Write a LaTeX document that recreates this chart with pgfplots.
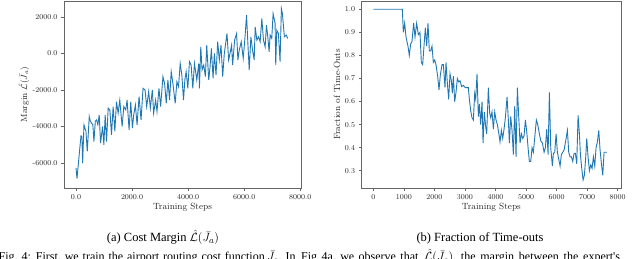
\documentclass[border=0pt]{standalone}
\usepackage{pgfplots}
\pgfplotsset{compat=1.18}
\usepackage{fontspec}
\newfontfamily\capfont{Liberation Serif}
\definecolor{mplblue}{HTML}{1F77B4}

\pgfplotstableread{
x y
0 -6270
35 -6850
142 -5090
178 -4510
210 -4550
237 -6000
284 -3910
320 -4100
355 -4270
402 -5360
473 -3450
510 -3700
556 -3820
600 -3900
639 -4820
690 -3700
734 -3640
780 -3900
828 -3360
876 -4910
947 -4000
994 -5000
1041 -3360
1089 -4820
1148 -3000
1207 -3090
1266 -4450
1325 -2910
1385 -4270
1444 -2640
1503 -3270
1562 -2550
1645 -4000
1704 -2910
1775 -3090
1822 -2550
1893 -4180
1953 -2640
2012 -4090
2059 -3360
2118 -2820
2178 -3910
2249 -2360
2320 -3640
2391 -1910
2462 -2000
2521 -2910
2592 -2090
2651 -3000
2722 -2000
2769 -3270
2840 -2550
2888 -3180
2959 -1910
3018 -2910
3101 -1270
3160 -1640
3219 -2730
3278 -1450
3337 -2550
3396 -1000
3456 -1640
3538 -2730
3598 -1550
3657 -1820
3716 -550
3775 -1180
3834 -2550
3882 -1450
3929 -1000
3988 -1910
4047 -450
4107 -640
4166 -1910
4225 -550
4308 -1450
4379 -550
4402 -1910
4450 360
4497 -910
4556 -640
4615 -1270
4663 450
4734 -1450
4781 -730
4828 270
4888 -1360
4935 0
4994 -1180
5053 640
5112 -360
5172 450
5231 -1270
5290 0
5385 1090
5444 -360
5491 0
5550 450
5586 -640
5657 730
5728 1090
5775 -360
5822 180
5893 640
5964 -270
6024 820
6083 2090
6130 550
6178 -910
6237 910
6296 180
6355 -360
6391 1450
6450 730
6509 910
6568 640
6627 1910
6686 730
6746 360
6793 1550
6840 910
6888 90
6923 1000
6982 820
7030 2180
7077 1820
7101 1640
7124 -640
7160 1270
7219 1090
7278 -450
7325 2450
7361 2180
7432 910
7503 1000
7550 820
}\costdata

\pgfplotstableread{
x y
0 1.0
950 1.0
983 0.90
1026 0.94
1070 0.88
1135 0.84
1179 0.80
1223 0.85
1266 0.86
1321 0.94
1365 0.88
1419 0.94
1474 0.89
1528 0.90
1572 0.77
1616 0.76
1659 0.84
1703 0.92
1747 0.84
1790 0.94
1834 0.82
1878 0.82
1921 0.84
1965 0.77
2009 0.78
2052 0.76
2107 0.71
2150 0.65
2194 0.715
2249 0.76
2293 0.76
2347 0.66
2380 0.77
2424 0.68
2467 0.61
2511 0.72
2555 0.69
2587 0.635
2620 0.71
2664 0.60
2707 0.64
2751 0.70
2795 0.685
2838 0.69
2893 0.665
2948 0.67
3013 0.66
3111 0.66
3144 0.61
3188 0.56
3231 0.53
3275 0.52
3319 0.635
3352 0.61
3395 0.72
3439 0.535
3472 0.59
3515 0.50
3559 0.60
3592 0.42
3635 0.555
3679 0.49
3712 0.46
3766 0.66
3810 0.55
3843 0.53
3886 0.555
3930 0.48
3974 0.555
4017 0.52
4061 0.50
4116 0.455
4148 0.425
4192 0.475
4236 0.44
4279 0.48
4323 0.53
4378 0.62
4421 0.52
4454 0.42
4498 0.535
4541 0.475
4585 0.37
4629 0.58
4672 0.36
4716 0.66
4760 0.535
4803 0.42
4847 0.46
4891 0.44
4934 0.45
4978 0.52
5022 0.47
5066 0.40
5109 0.34
5153 0.34
5197 0.40
5240 0.38
5295 0.46
5338 0.52
5382 0.50
5437 0.46
5480 0.43
5535 0.42
5590 0.38
5633 0.40
5677 0.48
5721 0.37
5764 0.64
5808 0.40
5862 0.32
5895 0.375
5939 0.38
5983 0.46
6026 0.38
6070 0.35
6114 0.32
6157 0.37
6201 0.38
6245 0.39
6299 0.43
6354 0.475
6397 0.38
6441 0.36
6485 0.36
6528 0.34
6572 0.375
6616 0.375
6659 0.33
6703 0.54
6747 0.46
6779 0.37
6823 0.31
6867 0.26
6910 0.28
6954 0.36
6987 0.44
7030 0.36
7074 0.30
7118 0.325
7161 0.31
7205 0.36
7249 0.32
7292 0.40
7336 0.425
7380 0.475
7423 0.39
7467 0.33
7511 0.28
7554 0.38
7598 0.38
7642 0.38
}\timeoutdata

\pgfplotsset{myax/.style={
  scale only axis, height=187pt,
  axis line style={black!60, line width=0.6pt},
  tick style={black!60, line width=0.6pt},
  tick align=outside, major tick length=3pt,
  xtick pos=bottom, ytick pos=left,
  scaled ticks=false,
  ticklabel style={font=\fontsize{7.5}{8}\selectfont, text=black!85},
  label style={font=\fontsize{9}{10}\selectfont, text=black!85},
  xlabel style={at={(axis description cs:0.5,-0.102)}, anchor=center},
}}

\begin{document}
\begin{tikzpicture}
\useasboundingbox (0,0) rectangle (640pt,259pt);
\clip (0,0) rectangle (640pt,259pt);

\begin{axis}[myax, at={(64pt,71pt)}, anchor=south west,
  width=237pt,
  xmin=-428, xmax=8025, ymin=-7366, ymax=2870,
  xtick={0,2000,4000,6000,8000},
  xticklabels={0.0,2000.0,4000.0,6000.0,8000.0},
  ytick={-6000,-4000,-2000,0,2000},
  yticklabels={-6000.0,-4000.0,-2000.0,0.0,2000.0},
  xlabel={Training Steps},
  ylabel={Margin $\hat{\mathcal{L}}(\bar{J}_a)$},
  ylabel style={at={(axis description cs:-0.169,0.5)}, anchor=center},
]
\addplot[mplblue, line width=0.9pt, no markers] table[x=x,y=y] {\costdata};
\end{axis}

\begin{axis}[myax, at={(361.7pt,71pt)}, anchor=south west,
  width=259.3pt,
  xmin=-380, xmax=8108, ymin=0.225, ymax=1.036,
  xtick={0,1000,2000,3000,4000,5000,6000,7000,8000},
  xticklabels={0,1000,2000,3000,4000,5000,6000,7000,8000},
  ytick={0.3,0.4,0.5,0.6,0.7,0.8,0.9,1.0},
  yticklabels={0.3,0.4,0.5,0.6,0.7,0.8,0.9,1.0},
  xlabel={Training Steps},
  ylabel={Fraction of Time-Outs},
  ylabel style={at={(axis description cs:-0.095,0.5)}, anchor=center},
]
\addplot[mplblue, line width=0.9pt, no markers] table[x=x,y=y] {\timeoutdata};
\end{axis}

\node[font=\capfont\fontsize{12.5}{14}\selectfont, anchor=base] at (163pt,17.5pt) {(a) Cost Margin $\hat{\mathcal{L}}(\bar{J_a})$};
\node[font=\capfont\fontsize{12.5}{14}\selectfont, anchor=base] at (480pt,17.5pt) {(b) Fraction of Time-outs};
\node[font=\capfont\fontsize{12}{14}\selectfont, anchor=base east, inner sep=0pt] at (265pt,-1.5pt) {\spaceskip=3.9pt\relax Fig.~4: First, we train the airport routing cost function};
\node[font=\capfont\fontsize{12}{14}\selectfont, anchor=base west, inner sep=0pt] at (267pt,-1.5pt) {$\bar{J}_a$. In};
\node[font=\capfont\fontsize{12}{14}\selectfont, anchor=base west, inner sep=0pt] at (301pt,-1.5pt) {\spaceskip=4.4pt\relax Fig 4a, we observe that};
\node[font=\capfont\fontsize{12}{14}\selectfont, anchor=base west, inner sep=0pt] at (424pt,-1.5pt) {\spaceskip=4.8pt\relax $\hat{\mathcal{L}}(\bar{J}_a)$, the margin between the expert's};
\end{tikzpicture}
\end{document}
